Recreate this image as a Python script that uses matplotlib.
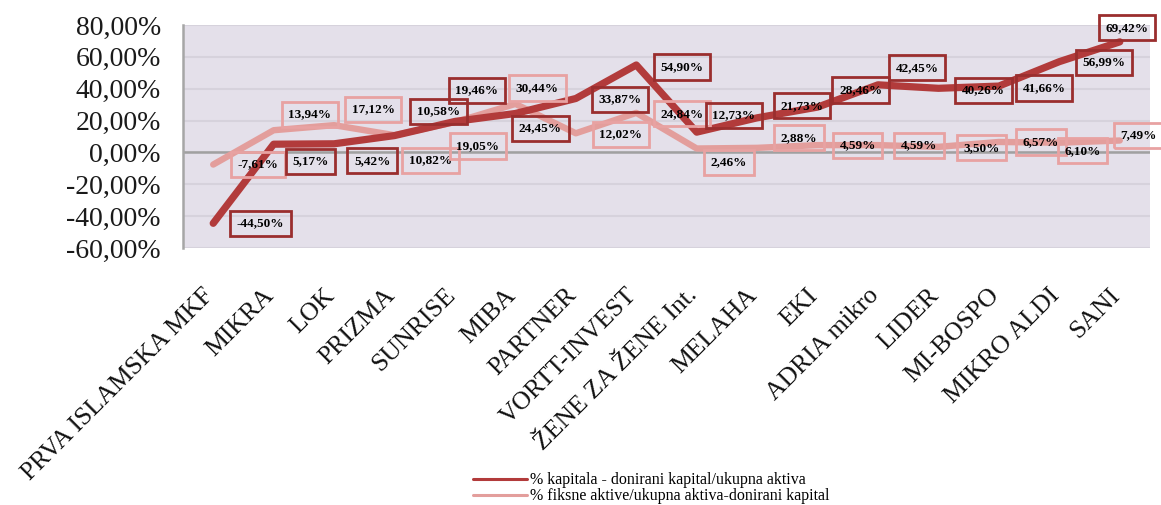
import matplotlib
matplotlib.use("Agg")
import matplotlib.pyplot as plt
import matplotlib.transforms as mtrans
from matplotlib.ticker import FuncFormatter, MultipleLocator

categories = ["PRVA ISLAMSKA MKF", "MIKRA", "LOK", "PRIZMA", "SUNRISE", "MIBA",
              "PARTNER", "VORTT-INVEST", "ŽENE ZA ŽENE Int.", "MELAHA", "EKI",
              "ADRIA mikro", "LIDER", "MI-BOSPO", "MIKRO ALDI", "SANI"]
kapital = [-44.50, 5.17, 5.42, 10.58, 19.46, 24.45, 33.87, 54.90, 12.73,
           21.73, 28.46, 42.45, 40.26, 41.66, 56.99, 69.42]
fiksne = [-7.61, 13.94, 17.12, 10.82, 19.05, 30.44, 12.02, 24.84, 2.46,
          2.88, 4.59, 4.59, 3.50, 6.57, 6.10, 7.49]
series_names = ["% kapitala - donirani kapital/ukupna aktiva",
                "% fiksne aktive/ukupna aktiva-donirani kapital"]

# label offsets (pixels)
off_k = [(47, 0), (37, -17), (38, -17), (44, 24), (22, 31), (25, -15), (44, -1),
         (46, -2), (37, 17), (45, 12), (43, 17), (39, 17), (45, -2), (45, -2),
         (45, -1), (7, 14)]
off_f = [(45, 0), (36, 16), (39, 16), (36, -25), (23, -24), (22, 16), (45, -1),
         (46, -1), (32, -14), (42, 10), (40, 0), (41, 0), (43, -1), (42, 0),
         (23, -8), (19, 5)]

DARK = "#B23B3B"
LIGHT = "#E39E9C"
DARK_EDGE = "#9A2E2E"
LIGHT_EDGE = "#E8A2A2"
SERIF = "Liberation Serif"

W, H = 1161, 505
fig = plt.figure(figsize=(W / 100, H / 100), dpi=100)
ax = fig.add_axes([183 / W, 1 - 248 / H, (1150 - 183) / W, (248 - 25) / H])
ax.set_facecolor("#E4E0EA")

x = list(range(len(categories)))
ax.set_xlim(-0.5, len(categories) - 0.5)
ax.set_ylim(-60, 80)

ax.yaxis.set_major_locator(MultipleLocator(20))
ax.yaxis.set_major_formatter(FuncFormatter(lambda v, p: f"{v:.2f}%".replace(".", ",")))
ax.grid(axis="y", color="#D6D2DC", linewidth=1.5, zorder=0)
ax.set_axisbelow(True)
ax.axhline(0, color="#A0A0A0", linewidth=1.8, zorder=1)

for s in ["top", "right", "bottom"]:
    ax.spines[s].set_visible(False)
ax.spines["left"].set_color("#A6A6A6")
ax.spines["left"].set_linewidth(1.8)

ax.tick_params(axis="y", length=0, pad=16, labelsize=20, labelcolor="#1a1a1a")
for lab in ax.get_yticklabels():
    lab.set_fontfamily(SERIF)

ax.set_xticks(x)
ax.set_xticklabels([])
ax.tick_params(axis="x", length=0)
trans = ax.get_xaxis_transform() + mtrans.ScaledTranslation(-3 / 100, -44 / 100, fig.dpi_scale_trans)
for xi, name in zip(x, categories):
    ax.text(xi, 0, name, transform=trans, rotation=45, ha="right", va="center",
            rotation_mode="anchor", fontsize=18.5, fontfamily=SERIF, color="#111111")

l2, = ax.plot(x, fiksne, color=LIGHT, linewidth=4.6, solid_joinstyle="round",
              solid_capstyle="round", zorder=3, label=series_names[1])
l1, = ax.plot(x, kapital, color=DARK, linewidth=5.2, solid_joinstyle="round",
              solid_capstyle="round", zorder=4, label=series_names[0])


def fmt(v):
    return f"{v:.2f}%".replace(".", ",")


for xi, v, (dx, dy) in zip(x, fiksne, off_f):
    ax.annotate(fmt(v), (xi, v), xytext=(dx, dy), textcoords="offset pixels",
                ha="center", va="center", fontsize=9.5, fontweight="bold",
                fontfamily=SERIF, color="black", zorder=6, annotation_clip=False,
                bbox=dict(boxstyle="square,pad=0.5", facecolor="none",
                          edgecolor=LIGHT_EDGE, linewidth=2.0))
for xi, v, (dx, dy) in zip(x, kapital, off_k):
    ax.annotate(fmt(v), (xi, v), xytext=(dx, dy), textcoords="offset pixels",
                ha="center", va="center", fontsize=9.5, fontweight="bold",
                fontfamily=SERIF, color="black", zorder=7, annotation_clip=False,
                bbox=dict(boxstyle="square,pad=0.5", facecolor="none",
                          edgecolor=DARK_EDGE, linewidth=2.0))

leg = fig.legend(handles=[l1, l2], labels=series_names, loc="center left",
                 bbox_to_anchor=(473 / W, 1 - 488.5 / H), frameon=False,
                 borderpad=0, borderaxespad=0, handlelength=3.4,
                 handletextpad=0.2, labelspacing=0.0,
                 prop={"family": SERIF, "size": 11.5})
for h in leg.legend_handles:
    h.set_linewidth(2.2)

fig.savefig("out.png", dpi=100)
